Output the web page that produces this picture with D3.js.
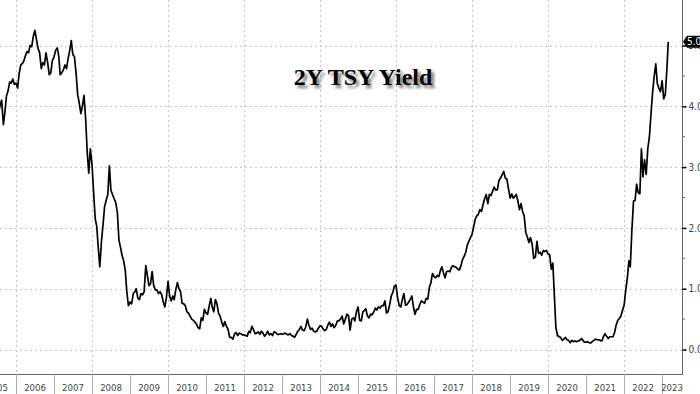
<!DOCTYPE html>
<html>
<head>
<meta charset="utf-8">
<style>
body { margin: 0; background: #fff; }
svg { display: block; }
</style>
</head>
<body>
<svg width="700" height="394"></svg>
<script src="https://cdn.jsdelivr.net/npm/d3@7"></script>
<script>
var y2005 = [3.88, 4.02, 4.10, 3.70, 3.90, 4.17, 4.25, 4.40, 4.38, 4.45, 4.36]; // starts Jul 16
var y2006 = [4.38, 4.30, 4.55, 4.68, 4.70, 4.74, 4.83, 4.90, 4.88, 5.00, 4.98, 5.15, 5.25, 5.10, 4.95, 4.88, 4.62, 4.72, 4.68, 4.88, 4.72, 4.52, 4.55, 4.75];
var y2007 = [4.81, 4.92, 4.96, 4.82, 4.52, 4.55, 4.60, 4.68, 4.62, 4.78, 4.92, 5.08, 4.85, 4.82, 4.55, 4.20, 4.05, 3.88, 4.00, 4.18, 3.80, 3.25, 2.90, 3.30];
var y2008 = [3.05, 2.60, 2.15, 2.02, 1.68, 1.36, 1.78, 2.05, 2.35, 2.45, 2.55, 3.02, 2.62, 2.55, 2.48, 2.42, 2.25, 1.80, 1.68, 1.55, 1.45, 1.30, 0.95, 0.72];
var y2009 = [0.78, 0.75, 0.92, 0.95, 1.00, 0.85, 0.82, 0.92, 0.90, 0.95, 1.38, 1.22, 1.05, 1.08, 1.28, 1.05, 0.98, 0.98, 0.92, 0.95, 0.90, 0.78, 0.70, 0.85];
var y2010 = [1.12, 0.88, 0.80, 0.88, 0.82, 0.98, 1.10, 1.00, 0.95, 0.76, 0.75, 0.72, 0.62, 0.60, 0.55, 0.50, 0.48, 0.45, 0.42, 0.36, 0.34, 0.52, 0.48, 0.66];
var y2011 = [0.60, 0.58, 0.72, 0.84, 0.70, 0.62, 0.82, 0.75, 0.60, 0.55, 0.45, 0.38, 0.46, 0.38, 0.33, 0.20, 0.20, 0.17, 0.25, 0.28, 0.23, 0.27, 0.26, 0.24];
var y2012 = [0.24, 0.23, 0.22, 0.30, 0.28, 0.38, 0.33, 0.26, 0.27, 0.29, 0.25, 0.30, 0.27, 0.22, 0.25, 0.30, 0.24, 0.26, 0.23, 0.29, 0.28, 0.25, 0.25, 0.26];
var y2013 = [0.25, 0.26, 0.27, 0.25, 0.24, 0.26, 0.23, 0.22, 0.20, 0.25, 0.30, 0.33, 0.38, 0.32, 0.31, 0.37, 0.50, 0.40, 0.33, 0.35, 0.30, 0.29, 0.30, 0.35];
var y2014 = [0.39, 0.38, 0.33, 0.31, 0.33, 0.40, 0.45, 0.38, 0.42, 0.36, 0.40, 0.47, 0.47, 0.50, 0.55, 0.42, 0.50, 0.58, 0.56, 0.32, 0.50, 0.52, 0.47, 0.62];
var y2015 = [0.70, 0.48, 0.47, 0.62, 0.64, 0.67, 0.55, 0.52, 0.58, 0.57, 0.62, 0.68, 0.65, 0.70, 0.68, 0.72, 0.72, 0.80, 0.60, 0.62, 0.74, 0.88, 0.94, 1.04];
var y2016 = [1.06, 0.85, 0.72, 0.70, 0.82, 0.92, 0.73, 0.74, 0.78, 0.82, 0.88, 0.70, 0.58, 0.66, 0.66, 0.74, 0.80, 0.78, 0.76, 0.84, 0.83, 1.02, 1.10, 1.25];
var y2017 = [1.20, 1.18, 1.22, 1.20, 1.29, 1.36, 1.26, 1.18, 1.28, 1.29, 1.28, 1.35, 1.38, 1.36, 1.35, 1.32, 1.31, 1.38, 1.48, 1.53, 1.60, 1.72, 1.78, 1.84];
var y2018 = [1.90, 2.02, 2.15, 2.20, 2.22, 2.30, 2.27, 2.38, 2.48, 2.55, 2.40, 2.55, 2.53, 2.60, 2.67, 2.62, 2.63, 2.78, 2.82, 2.87, 2.93, 2.82, 2.80, 2.65];
var y2019 = [2.49, 2.56, 2.49, 2.52, 2.55, 2.45, 2.30, 2.40, 2.27, 2.20, 1.92, 1.85, 1.76, 1.84, 1.73, 1.50, 1.52, 1.78, 1.58, 1.60, 1.55, 1.63, 1.61, 1.63];
var y2020 = [1.57, 1.56, 1.32, 1.42, 0.90, 0.36, 0.23, 0.21, 0.20, 0.15, 0.17, 0.20, 0.16, 0.15, 0.11, 0.15, 0.13, 0.14, 0.13, 0.14, 0.15, 0.18, 0.15, 0.12];
var y2021 = [0.12, 0.13, 0.11, 0.11, 0.13, 0.15, 0.17, 0.16, 0.16, 0.15, 0.14, 0.21, 0.26, 0.22, 0.18, 0.21, 0.21, 0.21, 0.28, 0.40, 0.48, 0.51, 0.55, 0.64];
var y2022 = [0.73, 0.97, 1.18, 1.46, 1.36, 1.95, 2.44, 2.45, 2.72, 2.58, 2.56, 3.30, 2.84, 3.12, 2.88, 3.30, 3.50, 3.87, 4.22, 4.48, 4.70, 4.37, 4.30, 4.24];
var y2023 = [4.42, 4.12, 4.20, 4.62, 5.06];

var yearRows = [y2005, y2006, y2007, y2008, y2009, y2010, y2011, y2012, y2013, y2014,
                y2015, y2016, y2017, y2018, y2019, y2020, y2021, y2022, y2023];
var firstYear = 2005;
var firstSlot = 13;            // half-month slot of the first 2005 reading (Jul 16)
var yTicks = [0, 1, 2, 3, 4, 5];
var yMinor = [0.5, 1.5, 2.5, 3.5, 4.5];
var lastValue = 5.06;
var title = "2Y TSY Yield";

var data = [];
yearRows.forEach(function(row, r) {
  var start = r === 0 ? firstSlot : 0;
  row.forEach(function(v, k) {
    var slot = start + k;
    data.push({ date: new Date(firstYear + r, Math.floor(slot / 2), slot % 2 ? 16 : 1), value: v });
  });
});

var svg = d3.select("svg");
var plotR = 682, plotB = 374;

var x = d3.scaleTime()
  .domain([new Date(2005, 6, 31), new Date(2023, 6, 11)])
  .range([0, plotR]);
var y = d3.scaleLinear().domain([0, 5]).range([349.5, 45.5]);

svg.append("rect").attr("width", 700).attr("height", 394).attr("fill", "#fff");

// dotted grid
svg.append("g").selectAll("line")
  .data(yTicks)
  .enter().append("line")
  .attr("x1", 0).attr("x2", plotR)
  .attr("y1", function(d) { return Math.round(y(d)) + 0.5; })
  .attr("y2", function(d) { return Math.round(y(d)) + 0.5; })
  .attr("stroke", "#c4c4c4").attr("stroke-dasharray", "2,3");

var gridYears = d3.range(2006, 2023, 2);
svg.append("g").selectAll("line")
  .data(gridYears)
  .enter().append("line")
  .attr("x1", function(d) { return Math.round(x(new Date(d, 0, 1))) + 0.5; })
  .attr("x2", function(d) { return Math.round(x(new Date(d, 0, 1))) + 0.5; })
  .attr("y1", 0).attr("y2", plotB)
  .attr("stroke", "#c4c4c4").attr("stroke-dasharray", "2,3");

// title with soft shadow
var defs = svg.append("defs");
defs.append("filter").attr("id", "blur")
  .append("feGaussianBlur").attr("stdDeviation", 1.6);
defs.append("clipPath").attr("id", "plot")
  .append("rect").attr("width", plotR).attr("height", plotB);

svg.append("text")
  .attr("x", 366).attr("y", 88)
  .attr("text-anchor", "middle")
  .attr("font-family", "'Liberation Serif', 'Times New Roman', serif")
  .attr("font-weight", "bold").attr("font-size", 24)
  .attr("fill", "#777").attr("filter", "url(#blur)")
  .text(title);
svg.append("text")
  .attr("x", 363).attr("y", 85)
  .attr("text-anchor", "middle")
  .attr("font-family", "'Liberation Serif', 'Times New Roman', serif")
  .attr("font-weight", "bold").attr("font-size", 24)
  .attr("fill", "#000")
  .text(title);

// the series
var line = d3.line()
  .x(function(d) { return x(d.date); })
  .y(function(d) { return y(d.value); });

svg.append("path")
  .datum(data)
  .attr("clip-path", "url(#plot)")
  .attr("d", line)
  .attr("fill", "none")
  .attr("stroke", "#000")
  .attr("stroke-width", 1.7)
  .attr("stroke-linejoin", "round");

// frame
svg.append("line").attr("x1", plotR + 0.5).attr("x2", plotR + 0.5).attr("y1", 0).attr("y2", plotB + 0.5)
  .attr("stroke", "#666");
svg.append("line").attr("x1", 0).attr("x2", plotR + 0.5).attr("y1", plotB + 0.5).attr("y2", plotB + 0.5)
  .attr("stroke", "#666");

// right axis
var axis = d3.axisRight(y)
  .tickValues(yTicks)
  .tickSize(4)
  .tickPadding(2)
  .tickFormat(d3.format(".2f"));
var ga = svg.append("g")
  .attr("transform", "translate(" + (plotR + 0.5) + ",0)")
  .call(axis);
ga.select(".domain").remove();
ga.selectAll(".tick line").attr("stroke", "#000").attr("stroke-width", 1.5);
ga.selectAll(".tick text")
  .attr("font-family", "'Liberation Sans Narrow', 'DejaVu Sans Condensed', sans-serif")
  .attr("font-size", 10).attr("fill", "#444");

svg.append("g").selectAll("line")
  .data(yMinor)
  .enter().append("line")
  .attr("x1", plotR).attr("x2", plotR + 3)
  .attr("y1", function(d) { return y(d); })
  .attr("y2", function(d) { return y(d); })
  .attr("stroke", "#666");

// last value tag
var tagY = y(lastValue);
svg.append("path")
  .attr("d", "M" + (plotR + 1) + "," + tagY + "L" + (plotR + 5) + "," + (tagY - 6) +
             "L700," + (tagY - 6) + "L700," + (tagY + 6) + "L" + (plotR + 5) + "," + (tagY + 6) + "Z")
  .attr("fill", "#000");
svg.append("text")
  .attr("x", plotR + 5).attr("y", tagY + 3.5)
  .attr("font-family", "'Liberation Sans Narrow', 'DejaVu Sans Condensed', sans-serif")
  .attr("font-size", 10).attr("fill", "#fff")
  .text(d3.format(".2f")(lastValue));

// year band
var bandYears = d3.range(2005, 2024);
svg.append("g").selectAll("line")
  .data(bandYears.slice(1))
  .enter().append("line")
  .attr("x1", function(d) { return Math.round(x(new Date(d, 0, 1))) + 0.5; })
  .attr("x2", function(d) { return Math.round(x(new Date(d, 0, 1))) + 0.5; })
  .attr("y1", plotB).attr("y2", 394)
  .attr("stroke", "#aaa");

svg.append("g").selectAll("text")
  .data(bandYears)
  .enter().append("text")
  .attr("x", function(d) {
    var a = x(new Date(d, 0, 1)), b = Math.min(x(new Date(d + 1, 0, 1)), plotR);
    return (a + b) / 2;
  })
  .attr("y", 391)
  .attr("text-anchor", "middle")
  .attr("font-family", "'Liberation Sans Narrow', 'DejaVu Sans Condensed', sans-serif")
  .attr("font-size", 9.5).attr("fill", "#444")
  .text(function(d) { return d; });
</script>
</body>
</html>
